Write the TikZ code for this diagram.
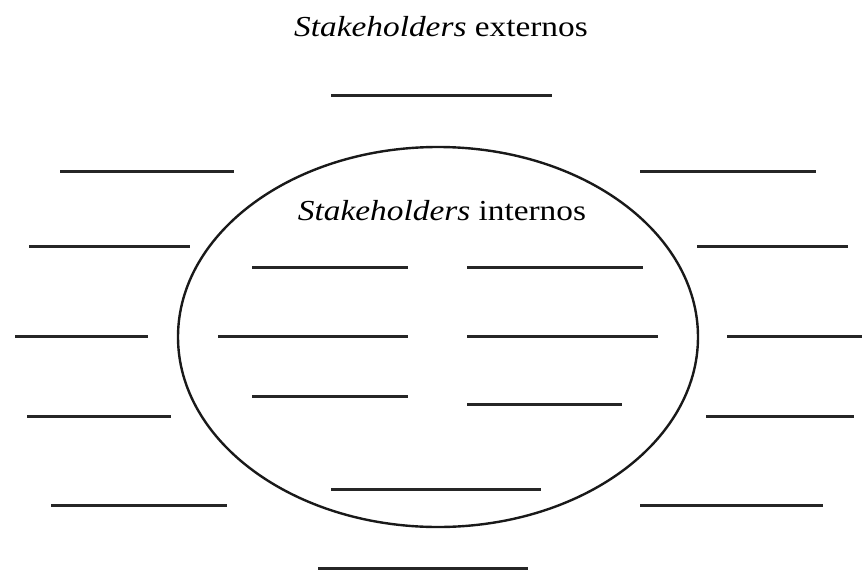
\documentclass[tikz,border=0pt]{standalone}
\usepackage{fontspec}
\setmainfont{Liberation Serif}
\begin{document}
\begin{tikzpicture}[x=1pt,y=-1pt,
  blank/.style={line width=3pt, draw=black!85},
  ring/.style={line width=2.4pt, draw=black!90},
  title/.style={font=\fontsize{29}{32}\selectfont, inner sep=0pt, anchor=base, xscale=1.15}]
\useasboundingbox (0,0) rectangle (863,571);
% headings
\node[title] (ext) at (441,36) {\textit{Stakeholders} externos};
\node[title] (int) at (442,220) {\textit{Stakeholders} internos};
% internal circle
\draw[ring] (438,337) ellipse [x radius=260, y radius=190];
% blanks outside the circle
\draw[blank] (331,95) -- (552,95);
\draw[blank] (318,568) -- (528,568);
\draw[blank] (60,171) -- (234,171);
\draw[blank] (29,246) -- (190,246);
\draw[blank] (15,336) -- (148,336);
\draw[blank] (27,416) -- (171,416);
\draw[blank] (51,505) -- (227,505);
\draw[blank] (640,171) -- (816,171);
\draw[blank] (697,246) -- (848,246);
\draw[blank] (727,336) -- (862,336);
\draw[blank] (706,416) -- (854,416);
\draw[blank] (640,505) -- (823,505);
% blanks inside the circle
\draw[blank] (252,267) -- (408,267);
\draw[blank] (467,267) -- (643,267);
\draw[blank] (218,336) -- (408,336);
\draw[blank] (467,336) -- (658,336);
\draw[blank] (252,396) -- (408,396);
\draw[blank] (467,404) -- (622,404);
\draw[blank] (331,489) -- (541,489);
\end{tikzpicture}
\end{document}
